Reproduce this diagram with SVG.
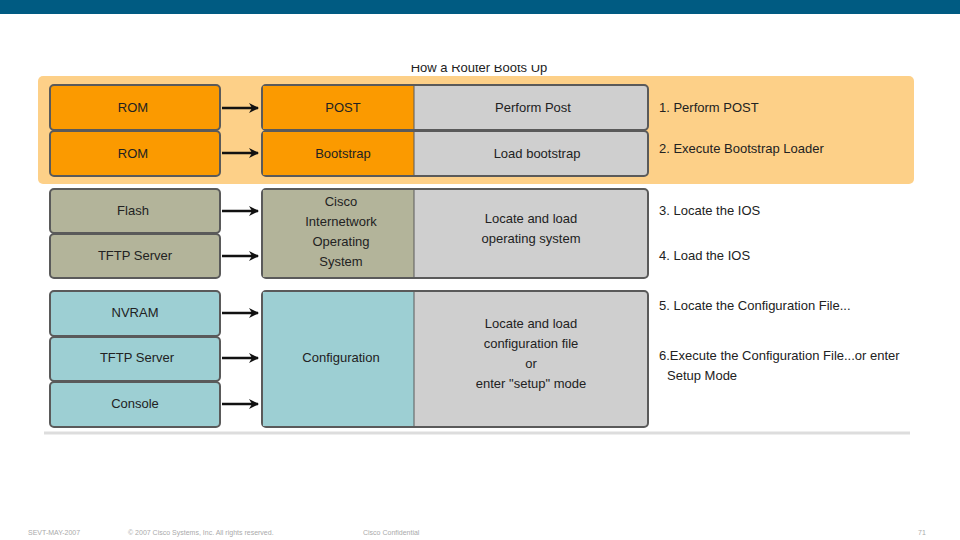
<svg xmlns="http://www.w3.org/2000/svg" width="960" height="540" viewBox="0 0 960 540">
<defs>
<style>
text{font-family:"Liberation Sans",Arial,sans-serif;font-size:13px;fill:#222}
.c{text-anchor:middle}
.b{stroke:#5a5a5a;stroke-width:2}
.or{fill:#fb9a00}.ol{fill:#b3b49a}.te{fill:#9dcfd3}.gr{fill:#cfcfcf}
.a{stroke:#111;stroke-width:2.5;fill:none;marker-end:url(#ah)}
.f{font-size:7px;fill:#aaa}
</style>
<marker id="ah" markerWidth="10" markerHeight="10" refX="9" refY="5" orient="auto" markerUnits="userSpaceOnUse"><path d="M0,0 L10,5 L0,10 L3,5 Z" fill="#111"/></marker>
<clipPath id="tc"><rect x="0" y="65" width="960" height="20"/></clipPath>
</defs>
<rect width="960" height="540" fill="#fff"/>
<rect width="960" height="14" fill="#005b82"/>
<text x="479" y="72" class="c" font-size="16" clip-path="url(#tc)">How a Router Boots Up</text>
<rect x="38" y="76" width="876" height="108" rx="5" fill="#fdd088"/>
<line x1="44" y1="433" x2="910" y2="433" stroke="#ddd" stroke-width="3"/>
<g id="rom1"><rect class="b or" x="50" y="85" width="170" height="45" rx="4"/><text class="c" x="133" y="112">ROM</text></g>
<g id="rom2"><rect class="b or" x="50" y="131" width="170" height="45" rx="4"/><text class="c" x="133" y="158">ROM</text></g>
<g id="flash"><rect class="b ol" x="50" y="189" width="170" height="44" rx="4"/><text class="c" x="133" y="215">Flash</text></g>
<g id="tftp1"><rect class="b ol" x="50" y="234" width="170" height="44" rx="4"/><text class="c" x="135" y="260">TFTP Server</text></g>
<g id="nvram"><rect class="b te" x="50" y="291" width="170" height="45" rx="4"/><text class="c" x="135" y="317">NVRAM</text></g>
<g id="tftp2"><rect class="b te" x="50" y="337" width="170" height="44" rx="4"/><text class="c" x="137" y="362">TFTP Server</text></g>
<g id="console"><rect class="b te" x="50" y="382" width="170" height="45" rx="4"/><text class="c" x="135" y="408">Console</text></g>
<g id="post"><rect class="b gr" x="262" y="85" width="386" height="45" rx="4"/><path class="or" d="M263,86 H414 V129 H263 Z"/><line x1="414" y1="85" x2="414" y2="130" stroke="#5a5a5a"/><text class="c" x="343" y="112">POST</text><text class="c" x="533" y="112">Perform Post</text></g>
<g id="bootstrap"><rect class="b gr" x="262" y="131" width="386" height="45" rx="4"/><path class="or" d="M263,132 H414 V175 H263 Z"/><line x1="414" y1="131" x2="414" y2="176" stroke="#5a5a5a"/><text class="c" x="343" y="158">Bootstrap</text><text class="c" x="537" y="158">Load bootstrap</text></g>
<g id="ios"><rect class="b gr" x="262" y="189" width="386" height="89" rx="4"/><path class="ol" d="M263,190 H414 V277 H263 Z"/><line x1="414" y1="189" x2="414" y2="278" stroke="#5a5a5a"/>
<text class="c" x="341" y="206">Cisco</text><text class="c" x="341" y="226">Internetwork</text><text class="c" x="341" y="246">Operating</text><text class="c" x="341" y="266">System</text>
<text class="c" x="531" y="223">Locate and load</text><text class="c" x="531" y="243">operating system</text></g>
<g id="config"><rect class="b gr" x="262" y="291" width="386" height="136" rx="4"/><path class="te" d="M263,292 H414 V426 H263 Z"/><line x1="414" y1="291" x2="414" y2="427" stroke="#5a5a5a"/>
<text class="c" x="341" y="362">Configuration</text>
<text class="c" x="531" y="328">Locate and load</text><text class="c" x="531" y="348">configuration file</text><text class="c" x="531" y="368">or</text><text class="c" x="531" y="388">enter "setup" mode</text></g>
<g id="connectors">
<line class="a" x1="222" y1="108" x2="258" y2="108"/><line class="a" x1="222" y1="153" x2="258" y2="153"/>
<line class="a" x1="222" y1="211" x2="258" y2="211"/><line class="a" x1="222" y1="256" x2="258" y2="256"/>
<line class="a" x1="222" y1="313" x2="258" y2="313"/><line class="a" x1="222" y1="358" x2="258" y2="358"/><line class="a" x1="222" y1="404" x2="258" y2="404"/>
</g>
<g id="steps">
<text x="659" y="112">1. Perform POST</text><text x="659" y="153">2. Execute Bootstrap Loader</text>
<text x="659" y="215">3. Locate the IOS</text><text x="659" y="260">4. Load the IOS</text>
<text x="659" y="310">5. Locate the Configuration File...</text>
<text x="659" y="360">6.Execute the Configuration File...or enter</text><text x="667" y="380">Setup Mode</text>
</g>
<text class="f" x="28" y="535">SEVT-MAY-2007</text><text class="f" x="128" y="535">© 2007 Cisco Systems, Inc. All rights reserved.</text><text class="f" x="363" y="535">Cisco Confidential</text><text class="f" x="918" y="535" font-size="9">71</text>
</svg>
